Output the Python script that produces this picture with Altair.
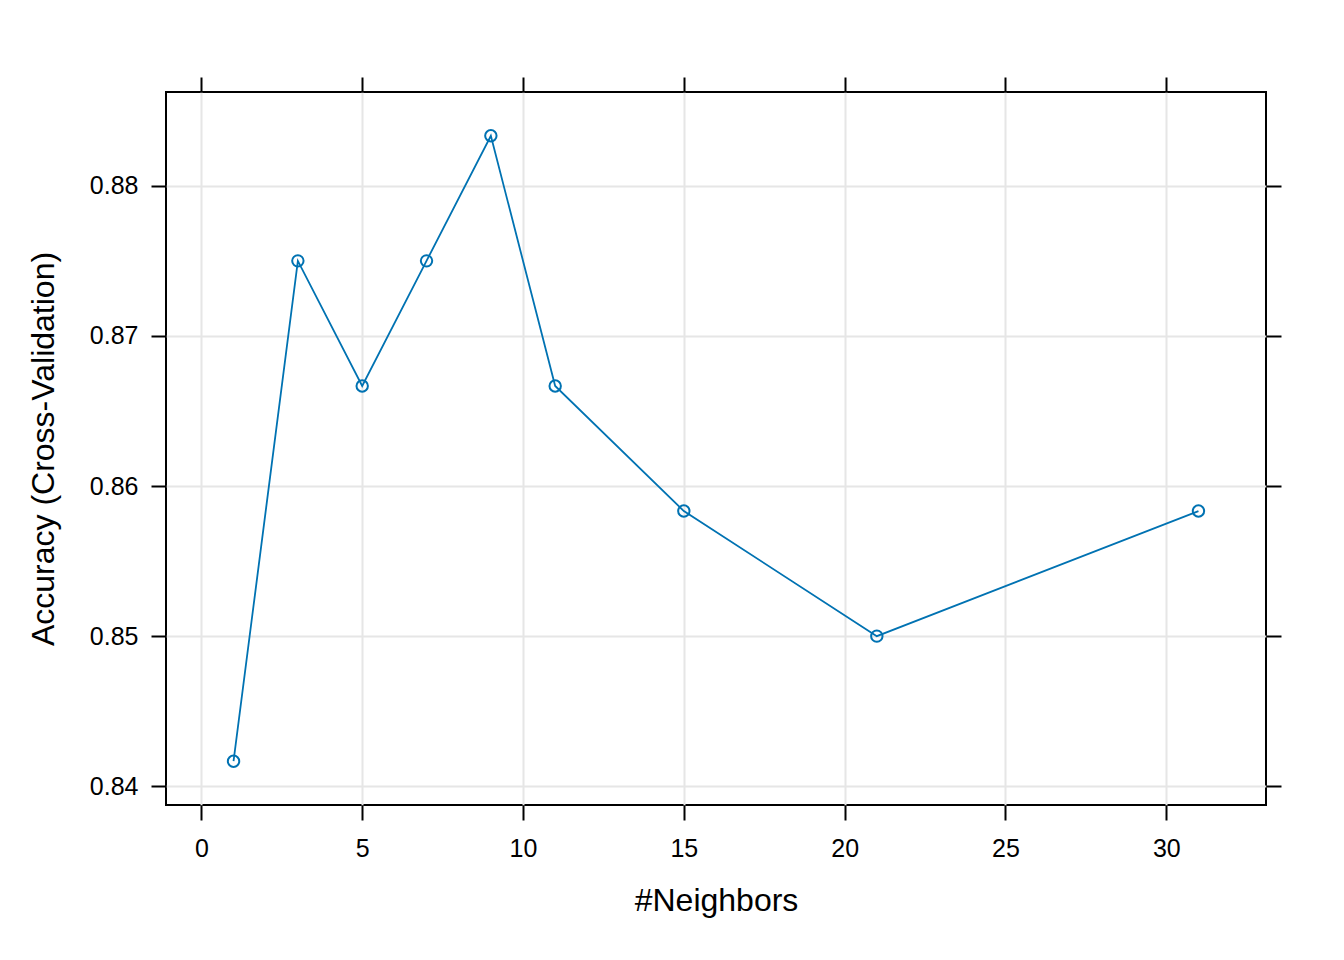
import altair as alt
import pandas as pd

neighbors = [1, 3, 5, 7, 9, 11, 15, 21, 31]
accuracy = [0.841667, 0.875, 0.866667, 0.875, 0.883333, 0.866667, 0.858333, 0.85, 0.858333]
x_ticks = [0, 5, 10, 15, 20, 25, 30]
y_ticks = [0.84, 0.85, 0.86, 0.87, 0.88]

df = pd.DataFrame({"k": neighbors, "acc": accuracy})

FONT = "Liberation Sans"
COL = "#0072B2"

xscale = alt.Scale(domain=[-1.1, 33.1], nice=False, zero=False)
yscale = alt.Scale(domain=[0.83875, 0.88625], nice=False, zero=False)

common_axis = dict(
    tickSize=15, tickWidth=2, tickColor="black", domain=False,
    gridColor="#E6E6E6", gridWidth=2,
    labelFont=FONT, labelFontSize=25, labelColor="black",
    titleFont=FONT, titleFontSize=32, titleColor="black", titleFontWeight="normal",
)

base = alt.Chart(df)

line = base.mark_line(color=COL, strokeWidth=1.8).encode(
    x=alt.X("k:Q", scale=xscale,
            axis=alt.Axis(values=x_ticks, title="#Neighbors", orient="bottom",
                          labelPadding=16, titlePadding=24, grid=True, **common_axis)),
    y=alt.Y("acc:Q", scale=yscale,
            axis=alt.Axis(values=y_ticks, title="Accuracy (Cross-Validation)", orient="left",
                          format=".2f", labelPadding=13, titlePadding=29, grid=True, **common_axis)),
)

pts = base.mark_point(shape="circle", filled=False, color=COL, size=130, strokeWidth=2, opacity=1).encode(
    x=alt.X("k:Q", scale=xscale,
            axis=alt.Axis(values=x_ticks, title=None, orient="top", labels=False, grid=False,
                          tickSize=15, tickWidth=2, tickColor="black", domain=False)),
    y=alt.Y("acc:Q", scale=yscale,
            axis=alt.Axis(values=y_ticks, title=None, orient="right", labels=False, grid=False,
                          tickSize=15, tickWidth=2, tickColor="black", domain=False)),
)

chart = alt.layer(line, pts).properties(
    width=1100, height=713,
    autosize=alt.AutoSizeParams(type="none"),
    padding={"left": 158, "top": 84, "right": 60, "bottom": 140},
    background="white",
).configure_view(stroke="black", strokeWidth=2)

chart.save("out.html", embed_options={"renderer": "svg", "actions": False})
